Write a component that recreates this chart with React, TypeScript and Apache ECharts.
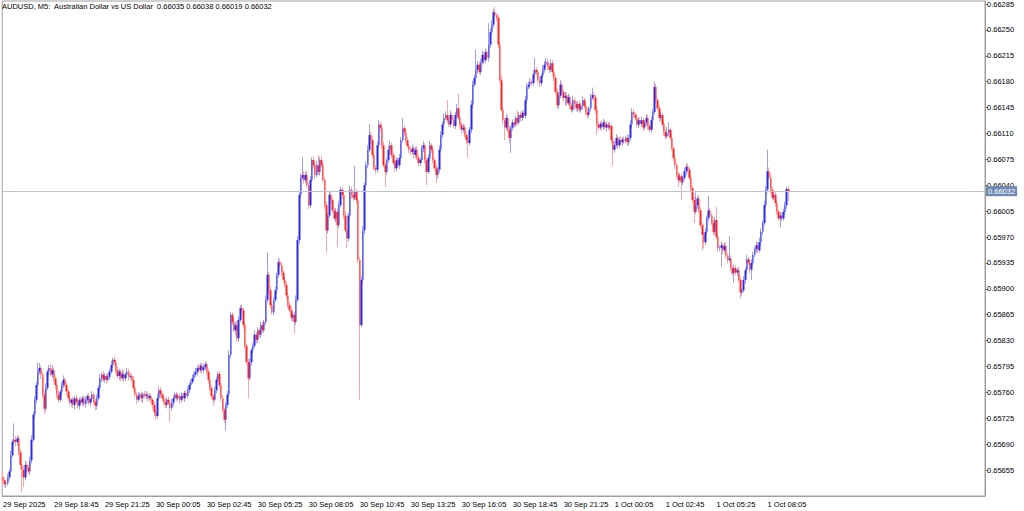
import { useEffect, useRef } from 'react';
import * as echarts from 'echarts';

const SYMBOL = 'AUDUSD';
const PERIOD = 'M5';
const DESCRIPTION = 'Australian Dollar vs US Dollar';
const POINT = 0.00001;
const FIRST_OPEN = 65646;

// closing prices in points (x 0.00001), one per 5-minute bar, from 29 Sep 16:05
const CLOSES = [
  65641, 65636, 65637, 65645, 65653, 65675, 65693, 65696, 65693, 65698,
  65679, 65662, 65655, 65645, 65662, 65658, 65653, 65668, 65696, 65730,
  65750, 65770, 65788, 65793, 65784, 65757, 65738, 65766, 65788, 65793,
  65784, 65790, 65779, 65770, 65757, 65750, 65761, 65770, 65777, 65770,
  65761, 65752, 65746, 65750, 65743, 65752, 65747, 65742, 65750, 65746,
  65752, 65744, 65750, 65755, 65746, 65751, 65757, 65747, 65742, 65752,
  65766, 65779, 65784, 65777, 65782, 65777, 65781, 65788, 65797, 65804,
  65801, 65790, 65782, 65788, 65779, 65785, 65779, 65784, 65788, 65781,
  65782, 65777, 65766, 65757, 65750, 65755, 65757, 65752, 65758, 65755,
  65757, 65752, 65755, 65750, 65743, 65733, 65728, 65752, 65763, 65757,
  65752, 65747, 65743, 65750, 65746, 65739, 65746, 65752, 65757, 65752,
  65755, 65750, 65755, 65752, 65759, 65755, 65763, 65770, 65774, 65779,
  65784, 65788, 65793, 65790, 65796, 65790, 65794, 65798, 65788, 65777,
  65766, 65755, 65750, 65763, 65777, 65785, 65770, 65752, 65736, 65723,
  65743, 65757, 65811, 65865, 65855, 65844, 65851, 65833, 65858, 65874,
  65871, 65851, 65823, 65801, 65779, 65801, 65817, 65823, 65838, 65831,
  65844, 65838, 65851, 65844, 65855, 65885, 65919, 65898, 65878, 65868,
  65885, 65898, 65919, 65936, 65932, 65922, 65912, 65905, 65891, 65878,
  65871, 65861, 65865, 65855, 65885, 65966, 66027, 66050, 66054, 66047,
  66054, 66040, 66013, 66047, 66074, 66067, 66054, 66067, 66058, 66074,
  66067, 66047, 66013, 65979, 65999, 66027, 66020, 66006, 65995, 66004,
  65986, 66013, 66034, 66027, 65999, 65979, 65968, 65999, 66034, 66027,
  66023, 66031, 66020, 65939, 65851, 65912, 65979, 66040, 66067, 66088,
  66108, 66101, 66081, 66063, 66061, 66094, 66122, 66118, 66094, 66067,
  66058, 66074, 66088, 66094, 66081, 66070, 66063, 66074, 66067, 66077,
  66101, 66117, 66112, 66101, 66093, 66088, 66085, 66090, 66081, 66088,
  66077, 66070, 66074, 66090, 66094, 66074, 66058, 66077, 66094, 66088,
  66074, 66063, 66054, 66061, 66088, 66108, 66122, 66131, 66135, 66128,
  66122, 66135, 66128, 66120, 66135, 66144, 66131, 66122, 66115, 66118,
  66108, 66101, 66097, 66115, 66149, 66176, 66185, 66196, 66203, 66193,
  66206, 66216, 66209, 66220, 66212, 66230, 66247, 66257, 66274, 66270,
  66266, 66230, 66182, 66142, 66128, 66118, 66131, 66115, 66104, 66118,
  66125, 66122, 66131, 66125, 66135, 66131, 66138, 66134, 66155, 66173,
  66176, 66180, 66178, 66190, 66196, 66193, 66182, 66178, 66188, 66196,
  66203, 66207, 66201, 66196, 66205, 66193, 66185, 66166, 66148, 66161,
  66176, 66166, 66158, 66161, 66151, 66159, 66148, 66142, 66155, 66150,
  66144, 66150, 66142, 66147, 66155, 66147, 66139, 66135, 66144, 66158,
  66162, 66159, 66142, 66122, 66118, 66123, 66119, 66125, 66118, 66122,
  66118, 66120, 66101, 66088, 66094, 66104, 66094, 66101, 66098, 66102,
  66100, 66104, 66098, 66104, 66122, 66139, 66135, 66131, 66122, 66128,
  66123, 66128, 66118, 66125, 66131, 66120, 66115, 66128, 66139, 66173,
  66155, 66144, 66131, 66135, 66122, 66112, 66106, 66111, 66115, 66104,
  66090, 66077, 66067, 66054, 66047, 66052, 66044, 66050, 66059, 66065,
  66061, 66050, 66036, 66020, 66004, 66013, 66022, 66006, 65986, 65973,
  65963, 65977, 65996, 66006, 65999, 65989, 65977, 65993, 65970, 65955,
  65955, 65959, 65952, 65958, 65945, 65939, 65941, 65928, 65921, 65928,
  65922, 65925, 65912, 65895, 65898, 65912, 65925, 65940, 65935, 65926,
  65935, 65946, 65954, 65959, 65952, 65963, 65977, 65989, 66013, 66034,
  66059, 66050, 66034, 66023, 66027, 66016, 66004, 65995, 65999, 65995,
  66004, 66013, 66035, 66032,
];

// upper wick length in points above the body
const UPPER_WICKS = [
  10, 3, 4, 5, 3, 6, 4, 22, 5, 4,
  3, 4, 2, 5, 6, 3, 4, 5, 6, 4,
  5, 4, 12, 7, 3, 4, 5, 6, 3, 4,
  5, 7, 3, 4, 2, 5, 3, 4, 6, 3,
  4, 3, 5, 2, 4, 3, 5, 4, 3, 4,
  3, 4, 5, 3, 4, 2, 5, 3, 4, 5,
  4, 6, 3, 5, 4, 3, 5, 4, 6, 3,
  4, 3, 5, 4, 3, 6, 4, 3, 5, 4,
  3, 4, 5, 3, 4, 5, 3, 4, 2, 4,
  5, 3, 4, 3, 2, 4, 3, 6, 5, 4,
  3, 4, 5, 3, 4, 3, 5, 4, 3, 4,
  4, 3, 5, 4, 3, 4, 5, 3, 4, 5,
  4, 5, 3, 6, 4, 3, 5, 4, 3, 4,
  3, 4, 3, 5, 4, 3, 4, 3, 5, 3,
  4, 5, 6, 4, 3, 5, 4, 6, 5, 4,
  5, 3, 4, 3, 4, 5, 3, 4, 6, 3,
  4, 3, 5, 4, 3, 6, 30, 4, 5, 3,
  4, 5, 3, 6, 4, 5, 3, 4, 5, 3,
  4, 5, 3, 4, 6, 5, 4, 6, 24, 5,
  4, 6, 3, 5, 4, 5, 3, 6, 14, 4,
  5, 3, 4, 5, 3, 4, 6, 3, 4, 5,
  3, 5, 4, 3, 4, 5, 3, 4, 6, 4,
  5, 35, 4, 3, 4, 5, 6, 4, 5, 6,
  15, 4, 5, 3, 4, 5, 6, 4, 3, 5,
  4, 3, 5, 6, 4, 3, 5, 4, 3, 5,
  4, 14, 3, 5, 4, 3, 4, 5, 3, 4,
  5, 4, 3, 4, 6, 3, 4, 5, 6, 3,
  4, 3, 5, 4, 6, 5, 4, 6, 5, 20,
  4, 6, 3, 5, 4, 6, 20, 4, 3, 5,
  4, 3, 5, 4, 6, 5, 4, 27, 5, 4,
  5, 6, 4, 5, 3, 29, 5, 6, 4, 7,
  3, 5, 4, 6, 4, 3, 5, 4, 5, 3,
  4, 5, 3, 10, 4, 5, 3, 4, 6, 5,
  4, 5, 3, 6, 16, 4, 3, 5, 4, 6,
  5, 5, 4, 3, 5, 4, 3, 4, 5, 3,
  6, 4, 3, 5, 4, 5, 3, 4, 6, 4,
  4, 3, 5, 4, 6, 3, 4, 5, 3, 6,
  10, 4, 3, 5, 4, 3, 4, 5, 3, 4,
  4, 5, 3, 4, 6, 5, 3, 4, 5, 3,
  4, 3, 5, 4, 6, 5, 4, 3, 5, 4,
  3, 5, 4, 3, 5, 4, 3, 5, 4, 7,
  4, 3, 5, 4, 3, 5, 4, 8, 10, 3,
  4, 3, 5, 4, 3, 5, 4, 3, 5, 4,
  5, 3, 4, 3, 4, 17, 3, 5, 4, 3,
  4, 5, 3, 20, 4, 3, 5, 4, 18, 3,
  4, 5, 3, 4, 5, 3, 30, 4, 3, 5,
  4, 3, 5, 4, 3, 5, 4, 6, 3, 4,
  5, 4, 3, 5, 4, 6, 5, 4, 6, 5,
  29, 5, 6, 4, 3, 5, 4, 3, 5, 4,
  4, 5, 3, 3,
];

// lower wick length in points below the body
const LOWER_WICKS = [
  6, 4, 5, 3, 4, 5, 3, 4, 6, 5,
  4, 5, 30, 13, 4, 6, 3, 5, 4, 3,
  4, 5, 3, 4, 6, 5, 7, 4, 3, 5,
  3, 4, 5, 6, 5, 4, 3, 5, 4, 3,
  5, 4, 3, 5, 4, 6, 3, 4, 5, 3,
  4, 3, 5, 4, 3, 5, 4, 3, 6, 5,
  3, 4, 5, 3, 4, 5, 3, 4, 3, 4,
  5, 4, 3, 5, 4, 3, 5, 4, 3, 5,
  4, 3, 5, 4, 6, 3, 4, 5, 6, 3,
  4, 5, 3, 4, 6, 5, 5, 4, 3, 5,
  4, 3, 5, 4, 3, 19, 4, 5, 3, 4,
  3, 5, 4, 3, 5, 4, 3, 4, 5, 3,
  4, 3, 5, 4, 3, 5, 4, 3, 4, 5,
  4, 5, 8, 3, 4, 3, 5, 4, 3, 4,
  14, 4, 3, 5, 4, 3, 6, 4, 5, 3,
  4, 5, 3, 4, 27, 3, 5, 4, 3, 5,
  4, 3, 5, 4, 3, 4, 3, 5, 4, 3,
  4, 3, 5, 4, 3, 5, 4, 3, 5, 4,
  3, 4, 5, 15, 4, 3, 5, 4, 3, 5,
  4, 3, 5, 4, 3, 4, 5, 3, 4, 5,
  4, 3, 5, 30, 4, 3, 5, 4, 3, 5,
  30, 4, 3, 5, 4, 3, 13, 4, 3, 5,
  4, 3, 5, 4, 101, 3, 4, 5, 3, 4,
  3, 5, 4, 3, 5, 4, 3, 5, 4, 3,
  20, 4, 3, 5, 4, 3, 5, 4, 3, 5,
  4, 3, 5, 4, 3, 5, 4, 3, 5, 4,
  3, 5, 4, 3, 5, 4, 18, 3, 4, 5,
  4, 3, 11, 5, 4, 3, 4, 5, 3, 4,
  3, 4, 5, 3, 4, 5, 3, 4, 5, 4,
  4, 5, 19, 3, 4, 5, 3, 4, 5, 3,
  4, 3, 5, 4, 3, 5, 4, 3, 4, 3,
  4, 5, 3, 4, 6, 17, 4, 3, 7, 20,
  4, 5, 3, 4, 3, 5, 4, 3, 4, 5,
  3, 5, 4, 3, 5, 4, 3, 5, 4, 3,
  4, 3, 5, 4, 3, 5, 4, 3, 5, 4,
  3, 4, 5, 10, 4, 3, 5, 4, 3, 8,
  4, 5, 3, 4, 5, 3, 4, 5, 3, 4,
  3, 4, 5, 14, 4, 3, 5, 4, 3, 5,
  4, 3, 5, 22, 4, 3, 5, 4, 3, 5,
  4, 3, 5, 4, 3, 5, 4, 3, 4, 5,
  3, 4, 5, 3, 4, 5, 3, 4, 12, 3,
  4, 3, 5, 4, 3, 5, 4, 3, 5, 4,
  3, 4, 5, 4, 9, 3, 24, 4, 3, 5,
  4, 3, 5, 4, 15, 3, 5, 4, 3, 21,
  8, 4, 3, 5, 4, 3, 5, 4, 3, 5,
  4, 25, 5, 3, 4, 5, 3, 4, 3, 13,
  4, 5, 3, 8, 4, 3, 5, 4, 3, 5,
  14, 4, 3, 5, 4, 3, 5, 4, 3, 5,
  4, 3, 5, 4, 3, 5, 4, 3, 12, 4,
  3, 4, 5, 13,
];

const X_TICK_LABELS = [
  '29 Sep 2025', '29 Sep 18:45', '29 Sep 21:25', '30 Sep 00:05',
  '30 Sep 02:45', '30 Sep 05:25', '30 Sep 08:05', '30 Sep 10:45',
  '30 Sep 13:25', '30 Sep 16:05', '30 Sep 18:45', '30 Sep 21:25',
  '1 Oct 00:05', '1 Oct 02:45', '1 Oct 05:25', '1 Oct 08:05',
];

const PRICE_TICKS = [
  0.65655, 0.6569, 0.65725, 0.6576, 0.65795, 0.6583, 0.65865, 0.659, 0.65935,
  0.6597, 0.66005, 0.6604, 0.66075, 0.6611, 0.66145, 0.6618, 0.66215, 0.6625, 0.66285,
];

const BARS_PER_LABEL = 32;
const TOTAL_SLOTS = 617;
const FONT = 'Liberation Sans, Arial, sans-serif';

export default function App() {
  const ref = useRef<HTMLDivElement | null>(null);

  useEffect(() => {
    if (!ref.current) return;
    const chart = echarts.init(ref.current, null, { renderer: 'svg' });

    const opens = CLOSES.map((c, i) => (i === 0 ? FIRST_OPEN : CLOSES[i - 1]));
    const wickData = CLOSES.map((c, i) => {
      const o = opens[i];
      const hi = Math.max(o, c) + UPPER_WICKS[i];
      const lo = Math.min(o, c) - LOWER_WICKS[i];
      return [o * POINT, c * POINT, lo * POINT, hi * POINT];
    });
    const bodyData = CLOSES.map((c, i) => {
      const o = opens[i];
      return [o * POINT, c * POINT, Math.min(o, c) * POINT, Math.max(o, c) * POINT];
    });
    const n = CLOSES.length;
    const last = wickData[n - 1];
    const fmt = (v: number) => v.toFixed(5);
    const header = `${SYMBOL}, ${PERIOD}:  ${DESCRIPTION}  ${fmt(last[0])} ${fmt(last[3])} ${fmt(last[2])} ${fmt(last[1])}`;

    const categories = Array.from({ length: TOTAL_SLOTS }, (_, i) => String(i));
    const showTick = (i: number) => i % BARS_PER_LABEL === 0 && i / BARS_PER_LABEL < X_TICK_LABELS.length;

    chart.setOption({
      animation: false,
      backgroundColor: '#ffffff',
      title: {
        text: header,
        left: 2,
        top: 2,
        padding: 0,
        textStyle: { fontSize: 7.5, fontWeight: 'normal', color: '#000000', fontFamily: FONT },
      },
      grid: {
        left: 1,
        top: 1,
        right: 39,
        bottom: 15,
        show: true,
        borderColor: '#a0a0a0',
        borderWidth: 1,
      },
      xAxis: {
        type: 'category',
        data: categories,
        boundaryGap: true,
        axisLine: { lineStyle: { color: '#a0a0a0' } },
        axisTick: {
          alignWithLabel: true,
          interval: (i: number) => showTick(i),
          length: 3,
          lineStyle: { color: '#808080' },
        },
        axisLabel: {
          interval: (i: number) => showTick(i),
          formatter: (_v: string, i: number) => X_TICK_LABELS[i / BARS_PER_LABEL] ?? '',
          align: 'left',
          margin: 4,
          padding: [0, 0, 0, 0],
          fontSize: 7.5,
          color: '#000000',
          fontFamily: FONT,
        },
        splitLine: { show: false },
      },
      yAxis: {
        type: 'value',
        position: 'right',
        min: 0.656199,
        max: 0.662891,
        splitLine: { show: false },
        axisLine: { show: true, lineStyle: { color: '#a0a0a0' } },
        axisTick: { show: true, customValues: PRICE_TICKS, length: 3, lineStyle: { color: '#808080' } },
        axisLabel: {
          customValues: PRICE_TICKS,
          formatter: (v: number) => v.toFixed(5),
          margin: 2,
          fontSize: 7.5,
          color: '#000000',
          fontFamily: FONT,
        },
      },
      series: [
        {
          name: 'price line',
          type: 'line',
          data: [],
          silent: true,
          z: 1,
          markLine: {
            silent: true,
            precision: 5,
            symbol: ['none', 'none'],
            lineStyle: { color: '#bcc4d4', type: 'solid', width: 1 },
            label: {
              show: true,
              position: 'end',
              distance: 1,
              formatter: () => fmt(last[1]),
              backgroundColor: '#7089b0',
              color: '#ffffff',
              padding: [1, 2, 1, 2],
              fontSize: 7.5,
              fontFamily: FONT,
            },
            data: [{ yAxis: last[1] }],
          },
        },
        {
          name: 'wicks',
          type: 'candlestick',
          data: wickData,
          barWidth: 1,
          z: 2,
          silent: true,
          itemStyle: {
            color: '#a0a0f2',
            color0: '#ffa4a4',
            borderColor: '#a0a0f2',
            borderColor0: '#ffa4a4',
            borderWidth: 1,
          },
        },
        {
          name: 'bodies',
          type: 'candlestick',
          data: bodyData,
          barWidth: 2,
          z: 3,
          silent: true,
          itemStyle: {
            color: '#2a2ae8',
            color0: '#ff2424',
            borderColor: '#2a2ae8',
            borderColor0: '#ff2424',
            borderWidth: 0,
          },
        },
      ],
    });

    return () => chart.dispose();
  }, []);

  return (
    <div
      ref={ref}
      style={{ position: 'absolute', left: 0, top: 0, width: 1024, height: 511, background: '#ffffff' }}
    />
  );
}
